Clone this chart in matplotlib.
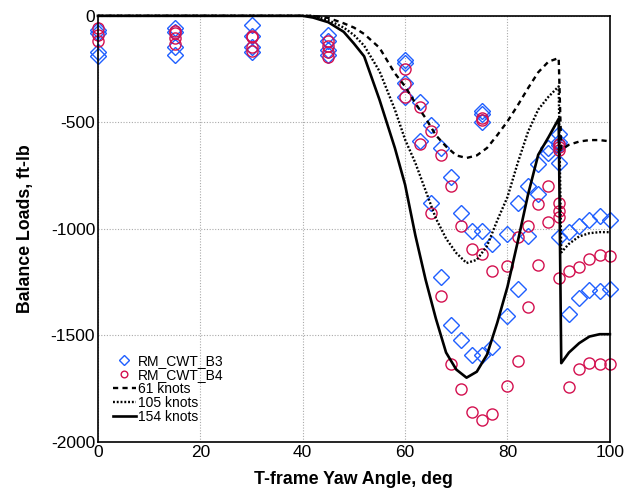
import matplotlib
matplotlib.use("Agg")
import matplotlib.pyplot as plt

plt.rcParams['font.family'] = ['Liberation Sans', 'DejaVu Sans']
plt.rcParams['axes.unicode_minus'] = False

# measured balance loads (yaw angle, deg / load, ft-lb)
b3_angle = [0, 0, 0, 0, 15, 15, 15, 15, 30, 30, 30, 30, 45, 45, 45, 45,
            60, 60, 60, 60, 63, 63, 65, 65, 67, 67, 69, 69, 71, 71, 73, 73,
            75, 75, 75, 75, 75, 77, 77, 80, 80, 82, 82, 84, 84, 86, 86, 88, 88,
            90, 90, 90, 90, 90, 92, 92, 94, 94, 96, 96, 98, 98, 100, 100]
b3_load = [-65, -80, -172, -188, -55, -75, -145, -183, -42, -95, -145, -170,
           -88, -120, -160, -185, -206, -222, -314, -380, -405, -585, -511, -879,
           -620, -1226, -755, -1449, -925, -1523, -1012, -1590,
           -445, -460, -500, -1012, -1590, -1069, -1554, -1024, -1407, -879, -1282,
           -797, -1034, -694, -835, -620, -645,
           -553, -590, -605, -690, -1040, -1015, -1399, -988, -1324, -957, -1285,
           -938, -1293, -957, -1282]

b4_angle = [0, 0, 0, 15, 15, 15, 15, 30, 30, 30, 30, 45, 45, 45, 45,
            60, 60, 60, 63, 63, 65, 65, 67, 67, 69, 69, 71, 71, 73, 73,
            75, 75, 75, 75, 77, 77, 80, 80, 82, 82, 84, 84, 86, 86, 88, 88,
            90, 90, 90, 90, 90, 90, 90, 92, 92, 94, 94, 96, 96, 98, 98, 100, 100]
b4_load = [-58, -89, -120, -70, -80, -105, -130, -95, -100, -145, -165,
           -118, -140, -172, -195, -250, -318, -383, -427, -600, -540, -925,
           -655, -1315, -800, -1634, -985, -1750, -1093, -1859,
           -478, -490, -1118, -1895, -1199, -1867, -1176, -1739, -1040, -1618,
           -985, -1366, -882, -1171, -797, -968,
           -600, -616, -630, -877, -918, -946, -1230, -1199, -1742, -1180, -1656,
           -1141, -1629, -1124, -1632, -1129, -1632]

# predicted loads
curve_angle = [0, 40, 42, 45, 48, 50, 52, 55, 58, 60, 62, 64, 66, 68, 70, 72, 74,
               76, 78, 80, 82, 84, 86, 88, 90, 90.5, 92, 94, 96, 98, 100]
load_61 = [0, 0, 0, -10, -35, -55, -85, -150, -270, -331, -410, -480, -560, -613,
           -655, -667, -655, -620, -560, -495, -420, -340, -265, -215, -198,
           -628, -605, -590, -583, -583, -589]
load_105 = [0, 0, 0, -20, -55, -90, -140, -260, -440, -581, -690, -820, -950, -1045,
            -1113, -1160, -1145, -1080, -960, -850, -690, -545, -440, -380, -331,
            -1110, -1070, -1035, -1020, -1015, -1015]
load_154 = [0, 0, -8, -30, -75, -130, -190, -394, -620, -793, -1030, -1238, -1420,
            -1580, -1660, -1698, -1670, -1590, -1440, -1271, -1060, -840, -652, -570,
            -483, -1630, -1580, -1536, -1505, -1494, -1494]

fig = plt.figure(figsize=(6.32, 4.95), dpi=100)
ax = fig.add_axes([0.155, 0.107, 0.81, 0.861])

ax.plot(b3_angle, b3_load, linestyle='none', marker='D', markersize=7.8,
        markerfacecolor='none', markeredgecolor='#1f5fff', markeredgewidth=1.0,
        label='RM_CWT_B3', clip_on=False)
ax.plot(b4_angle, b4_load, linestyle='none', marker='o', markersize=8,
        markerfacecolor='none', markeredgecolor='#d3104f', markeredgewidth=1.0,
        label='RM_CWT_B4', clip_on=False)
ax.plot(curve_angle, load_61, color='black', lw=1.7, dashes=[2.2, 1.8],
        label='61 knots', clip_on=False)
ax.plot(curve_angle, load_105, color='black', lw=1.7, dashes=[0.8, 0.8],
        label='105 knots', clip_on=False)
ax.plot(curve_angle, load_154, color='black', lw=1.9, label='154 knots',
        clip_on=False)

ax.set_xlim(0, 100)
ax.set_ylim(-2000, 0)
ax.set_xticks([0, 20, 40, 60, 80, 100])
ax.set_yticks([0, -500, -1000, -1500, -2000])
ax.tick_params(length=0, labelsize=12.5, pad=2)
ax.grid(True, color='#aaaaaa', linestyle=(0, (1, 1.5)), linewidth=0.8)
for s in ax.spines.values():
    s.set_linewidth(1.2)

ax.set_xlabel('T-frame Yaw Angle, deg', fontsize=12.8, fontweight='bold', labelpad=8)
ax.set_ylabel('Balance Loads, ft-lb', fontsize=12.8, fontweight='bold', labelpad=12)

ax.legend(loc='upper left', bbox_to_anchor=(0.03, 0.207), frameon=False,
          fontsize=10, labelspacing=0.0, borderpad=0, borderaxespad=0,
          handlelength=1.6, handletextpad=0.15, markerscale=0.6)

fig.savefig('out.png', dpi=100)
